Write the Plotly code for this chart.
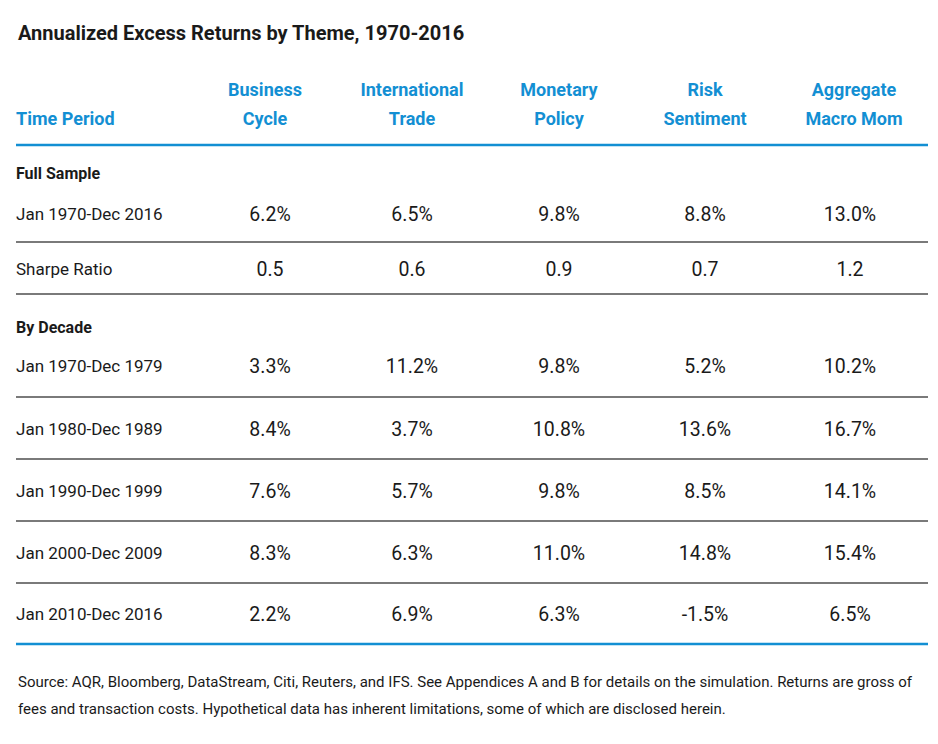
import plotly.graph_objects as go

# table content
title = "Annualized Excess Returns by Theme, 1970-2016"
first_col = "Time Period"
themes = ["Business<br>Cycle", "International<br>Trade", "Monetary<br>Policy",
          "Risk<br>Sentiment", "Aggregate<br>Macro Mom"]

full_label = "Jan 1970-Dec 2016"
full_returns = [6.2, 6.5, 9.8, 8.8, 13.0]
sharpe = [0.5, 0.6, 0.9, 0.7, 1.2]

decades = ["Jan 1970-Dec 1979", "Jan 1980-Dec 1989", "Jan 1990-Dec 1999",
           "Jan 2000-Dec 2009", "Jan 2010-Dec 2016"]
ret_1970s = [3.3, 11.2, 9.8, 5.2, 10.2]
ret_1980s = [8.4, 3.7, 10.8, 13.6, 16.7]
ret_1990s = [7.6, 5.7, 9.8, 8.5, 14.1]
ret_2000s = [8.3, 6.3, 11.0, 14.8, 15.4]
ret_2010s = [2.2, 6.9, 6.3, -1.5, 6.5]

note = ["Source: AQR, Bloomberg, DataStream, Citi, Reuters, and IFS. See Appendices A and B for details "
        "on the simulation. Returns are gross of",
        "fees and transaction costs. Hypothetical data has inherent limitations, some of which are "
        "disclosed herein."]

# layout, in page pixels (page body has an 8px margin)
W, H, PAD = 938, 744, 8
FONT = "Roboto, DejaVu Sans Condensed, sans-serif"
BLUE = "#138fd3"
INK = "#1a1a1a"
LEFT, RIGHT = 16, 928
head_x = [265, 412, 559, 705, 854]
val_x = [270, 412, 559, 705, 850]
y_head1, y_head2 = 91, 120
y_full_hdr, y_full, y_sharpe = 175, 216, 271
y_dec_hdr = 329
y_decades = [368, 431, 493, 555, 616]
blue_lines = [145, 644]
gray_lines = [242, 294, 397, 459, 521, 583]
y_note = [682, 709]

fig = go.Figure()


def pct(vals):
    return [f"{v:.1f}%" for v in vals]


# row labels
labels = [full_label, "Sharpe Ratio"] + decades
label_y = [y_full, y_sharpe] + y_decades
fig.add_trace(go.Scatter(x=[LEFT] * len(labels), y=label_y, text=labels, mode="text",
                         textposition="middle right",
                         textfont=dict(family=FONT, size=17, color=INK)))

# section headers
fig.add_trace(go.Scatter(x=[LEFT, LEFT], y=[y_full_hdr, y_dec_hdr],
                         text=["<b>Full Sample</b>", "<b>By Decade</b>"], mode="text",
                         textposition="middle right",
                         textfont=dict(family=FONT, size=16, color=INK)))

# column headers, two lines each
head_top = [t.split("<br>")[0] for t in themes]
head_bot = [t.split("<br>")[1] for t in themes]
for parts, y in [(head_top, y_head1), (head_bot, y_head2)]:
    fig.add_trace(go.Scatter(x=head_x, y=[y] * 5, text=[f"<b>{t}</b>" for t in parts],
                             mode="text", textposition="middle center",
                             textfont=dict(family=FONT, size=18, color=BLUE)))
fig.add_trace(go.Scatter(x=[LEFT], y=[y_head2], text=[f"<b>{first_col}</b>"], mode="text",
                         textposition="middle right",
                         textfont=dict(family=FONT, size=18, color=BLUE)))

# values
rows = [pct(full_returns), [f"{v:.1f}" for v in sharpe],
        pct(ret_1970s), pct(ret_1980s), pct(ret_1990s), pct(ret_2000s), pct(ret_2010s)]
for txt, y in zip(rows, label_y):
    fig.add_trace(go.Scatter(x=val_x, y=[y] * 5, text=txt, mode="text",
                             textposition="middle center",
                             textfont=dict(family=FONT, size=19.5, color=INK)))

# rules
for y in blue_lines:
    fig.add_shape(type="line", x0=LEFT, x1=RIGHT, y0=y, y1=y, xref="x", yref="y",
                  line=dict(color=BLUE, width=2.5))
for y in gray_lines:
    fig.add_shape(type="line", x0=LEFT, x1=RIGHT, y0=y, y1=y, xref="x", yref="y",
                  line=dict(color="#7a7a7a", width=2))

fig.add_annotation(x=LEFT, y=33, xref="x", yref="y", text=f"<b>{title}</b>", showarrow=False,
                   xanchor="left", yanchor="middle",
                   font=dict(family=FONT, size=20, color=INK))
for line, y in zip(note, y_note):
    fig.add_annotation(x=LEFT, y=y, xref="x", yref="y", text=line, showarrow=False,
                       xanchor="left", yanchor="middle", align="left",
                       font=dict(family=FONT, size=15, color=INK))

fig.update_layout(width=W - 2 * PAD, height=H - 2 * PAD, margin=dict(l=0, r=0, t=0, b=0),
                  paper_bgcolor="white", plot_bgcolor="white", showlegend=False,
                  xaxis=dict(range=[PAD, W - PAD], visible=False, fixedrange=True),
                  yaxis=dict(range=[H - PAD, PAD], visible=False, fixedrange=True))

fig.write_html("out.html")
